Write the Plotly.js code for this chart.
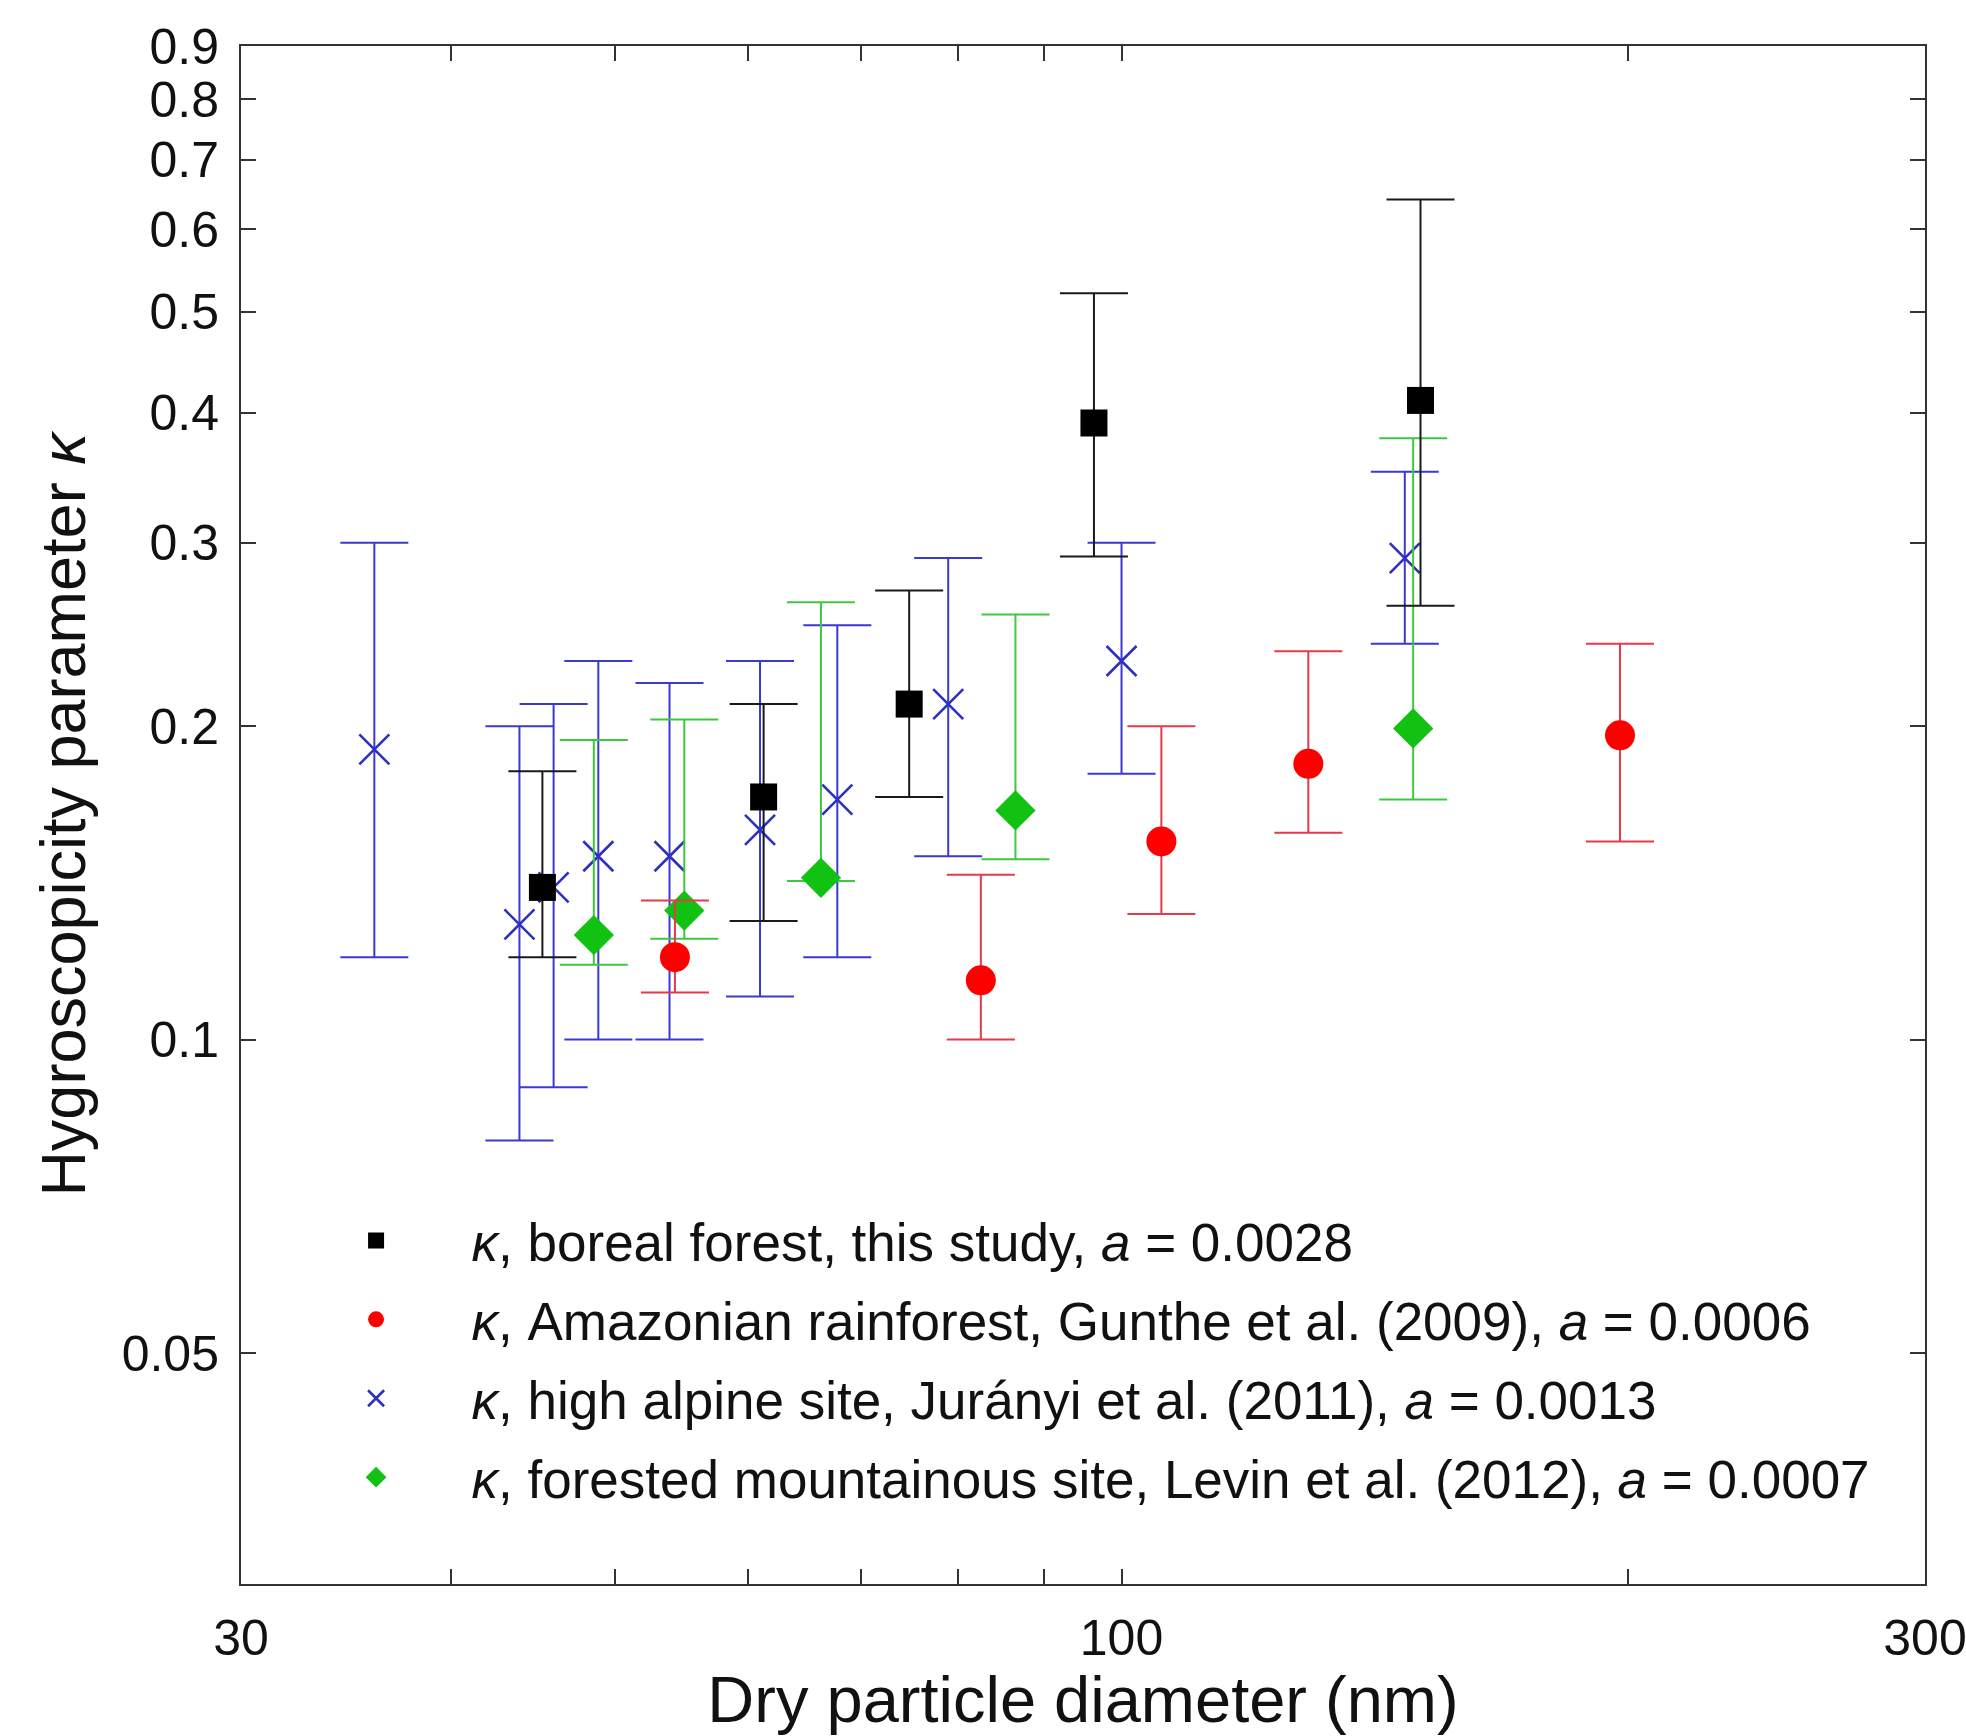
<!DOCTYPE html>
<html>
<head>
<meta charset="utf-8">
<script src="https://cdn.plot.ly/plotly-3.0.1.min.js"></script>
<style>
  html, body { margin: 0; padding: 0; background: #ffffff; }
  #chart { width: 1966px; height: 1736px; }
</style>
</head>
<body>
<div id="chart"></div>
<script>
// ---- Data ----
// Boreal forest, this study
const borealD     = [45.3, 61.3, 74.8, 96.3, 150.5];
const borealK     = [0.140, 0.171, 0.210, 0.391, 0.411];
const borealUpper = [0.181, 0.210, 0.270, 0.521, 0.641];
const borealLower = [0.120, 0.130, 0.171, 0.291, 0.261];

// Amazonian rainforest, Gunthe et al. (2009)
const amazonD     = [54.3, 82.5, 105.6, 129.1, 197.7];
const amazonK     = [0.120, 0.114, 0.155, 0.184, 0.196];
const amazonUpper = [0.136, 0.144, 0.200, 0.236, 0.240];
const amazonLower = [0.111, 0.100, 0.132, 0.158, 0.155];

// High alpine site, Jurányi et al. (2011)
const alpineD     = [36.0, 43.9, 46.0, 48.9, 53.9, 61.0, 67.8, 78.9, 100.0, 147.3];
const alpineK     = [0.190, 0.129, 0.140, 0.150, 0.150, 0.159, 0.170, 0.210, 0.231, 0.290];
const alpineUpper = [0.300, 0.200, 0.210, 0.231, 0.220, 0.231, 0.250, 0.290, 0.300, 0.351];
const alpineLower = [0.120, 0.080, 0.090, 0.100, 0.100, 0.110, 0.120, 0.150, 0.180, 0.240];

// Forested mountainous site, Levin et al. (2012)
const levinD      = [48.6, 55.0, 66.3, 86.5, 149.0];
const levinK      = [0.126, 0.133, 0.143, 0.166, 0.199];
const levinUpper  = [0.194, 0.203, 0.263, 0.256, 0.378];
const levinLower  = [0.118, 0.125, 0.142, 0.149, 0.170];

// Axis ticks
const yTickVals = [0.05, 0.1, 0.2, 0.3, 0.4, 0.5, 0.6, 0.7, 0.8, 0.9];
const yTickText = ['0.05', '0.1', '0.2', '0.3', '0.4', '0.5', '0.6', '0.7', '0.8', '0.9'];
const xTickVals = [30, 40, 50, 60, 70, 80, 90, 100, 200, 300];
const xTickText = ['30', '', '', '', '', '', '', '100', '', '300'];

// Legend labels
const kap = '<i>κ</i>';
const labels = {
  boreal: kap + ', boreal forest, this study, <i>a</i> = 0.0028',
  amazon: kap + ', Amazonian rainforest, Gunthe et al. (2009), <i>a</i> = 0.0006',
  alpine: kap + ', high alpine site, Jurányi et al. (2011), <i>a</i> = 0.0013',
  levin:  kap + ', forested mountainous site, Levin et al. (2012), <i>a</i> = 0.0007'
};

function errs(k, up, lo, color) {
  return {
    type: 'data', symmetric: false,
    array: up.map((u, i) => u - k[i]),
    arrayminus: lo.map((l, i) => k[i] - l),
    color: color, thickness: 2, width: 34
  };
}

const traces = [
  {
    x: alpineD, y: alpineK, name: labels.alpine, type: 'scatter', mode: 'markers',
    legendrank: 3, legendgroup: 'c',
    marker: { symbol: 'x-thin-open', size: 30, color: '#3030c0', line: { color: '#3030c0', width: 2.6 } },
    error_y: errs(alpineK, alpineUpper, alpineLower, '#3a3ad2')
  },
  {
    x: levinD, y: levinK, name: labels.levin, type: 'scatter', mode: 'markers',
    legendrank: 4, legendgroup: 'd',
    marker: { symbol: 'diamond', size: 31, color: '#12c212', line: { width: 0 } },
    error_y: errs(levinK, levinUpper, levinLower, '#3ec83e')
  },
  {
    x: amazonD, y: amazonK, name: labels.amazon, type: 'scatter', mode: 'markers',
    legendrank: 2, legendgroup: 'b',
    marker: { symbol: 'circle', size: 30, color: '#ff0000', line: { width: 0 } },
    error_y: errs(amazonK, amazonUpper, amazonLower, '#e8384c')
  },
  {
    x: borealD, y: borealK, name: labels.boreal, type: 'scatter', mode: 'markers',
    legendrank: 1, legendgroup: 'a',
    marker: { symbol: 'square', size: 27, color: '#000000', line: { width: 0 } },
    error_y: errs(borealK, borealUpper, borealLower, '#1a1a1a')
  }
];

const fontFam = '"Liberation Sans", Arial, Helvetica, sans-serif';

const layout = {
  width: 1966, height: 1736,
  paper_bgcolor: '#ffffff', plot_bgcolor: '#ffffff',
  margin: { l: 241, r: 41, t: 46, b: 152, pad: 0 },
  font: { family: fontFam, size: 50, color: '#111111' },
  showlegend: true,
  legend: {
    x: 0.0235, y: 0.25, xanchor: 'left', yanchor: 'top',
    bgcolor: 'rgba(255,255,255,0)', borderwidth: 0,
    font: { family: fontFam, size: 53, color: '#111111' },
    itemwidth: 181, tracegroupgap: 7, traceorder: 'grouped',
    itemclick: false, itemdoubleclick: false
  },
  xaxis: {
    type: 'log', range: [Math.log10(30), Math.log10(300)],
    tickmode: 'array', tickvals: xTickVals, ticktext: xTickText,
    ticks: 'inside', ticklen: 15, tickwidth: 2, tickcolor: '#333333',
    showline: true, linecolor: '#333333', linewidth: 2, mirror: 'ticks',
    showgrid: false, zeroline: false,
    tickfont: { family: fontFam, size: 50, color: '#111111' },
    ticklabelstandoff: 9, ticklabeloverflow: 'allow',
    title: { text: 'Dry particle diameter (nm)\u00a0\u00a0\u00a0', font: { family: fontFam, size: 65, color: '#111111' }, standoff: 42 }
  },
  yaxis: {
    type: 'log', range: [Math.log10(0.03), Math.log10(0.9)],
    tickmode: 'array', tickvals: yTickVals, ticktext: yTickText,
    ticks: 'inside', ticklen: 15, tickwidth: 2, tickcolor: '#333333',
    showline: true, linecolor: '#333333', linewidth: 2, mirror: 'ticks',
    showgrid: false, zeroline: false,
    tickfont: { family: fontFam, size: 50, color: '#111111' },
    ticklabelstandoff: 10, ticklabeloverflow: 'allow',
    title: { text: 'Hygroscopicity parameter ' + kap, font: { family: fontFam, size: 63, color: '#111111' }, standoff: 16 }
  }
};

Plotly.newPlot('chart', traces, layout, { staticPlot: true, displayModeBar: false });
</script>
</body>
</html>
